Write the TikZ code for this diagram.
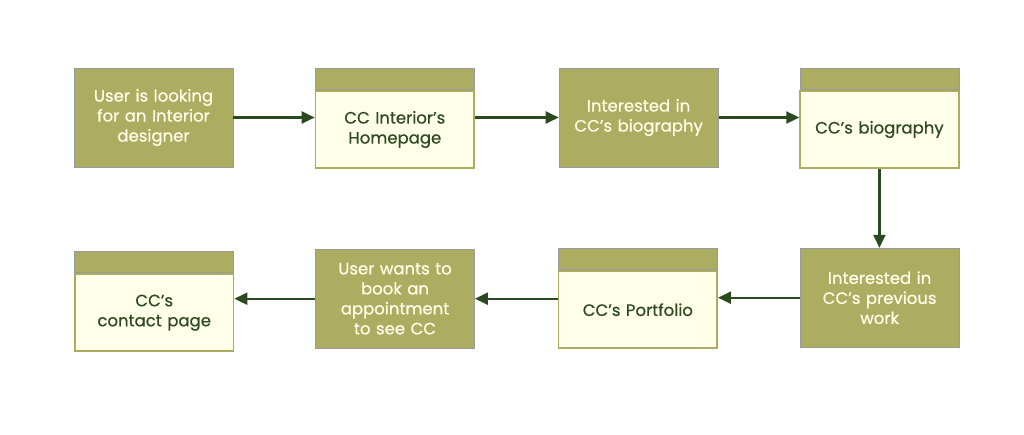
\documentclass[tikz,border=0pt]{standalone}
\usepackage{fontspec}
\setmainfont{Poppins}[FakeBold=0.6]
\usetikzlibrary{arrows.meta, positioning}
\definecolor{olive}{HTML}{ADAD62}
\definecolor{ivory}{HTML}{FFFFEA}
\definecolor{leaf}{HTML}{2C4A1F}
\definecolor{rim}{HTML}{9A9A9A}

\begin{document}
\begin{tikzpicture}[
    x=1pt, y=-1pt,
    box/.style={rectangle, minimum width=159pt, minimum height=99pt, text width=152pt, align=center, font=\fontsize{16.5}{20}\selectfont, fill=olive, draw=rim, line width=0.8pt, text=ivory},
    hdr/.style={rectangle, minimum width=159pt, minimum height=21pt, inner sep=0pt, fill=olive, draw=rim, line width=0.8pt},
    pagebody/.style={rectangle, minimum width=157pt, minimum height=77pt, text width=152pt, align=center, font=\fontsize{16.5}{20}\selectfont, fill=ivory, draw=olive, line width=1.6pt, text=leaf},
    arrow/.style={-{Triangle[length=13pt, width=12pt]}, line width=2.2pt, leaf}
]
\useasboundingbox (0,0) rectangle (1024,434);

% Nodes, top row
\node[box] (look) at (153.5,117.5) {User is looking\\for an Interior\\designer};
\node[hdr, right=81.5pt of look.north east, anchor=north west] (homeh) {};
\node[pagebody, below=0.8pt of homeh] (home) {CC Interior's\\Homepage};
\node[box, right=84pt of homeh.north east, anchor=north west] (wantbio) {Interested in\\CC's biography};
\node[hdr, right=81pt of wantbio.north east, anchor=north west] (bioh) {};
\node[pagebody, below=0.8pt of bioh] (bio) {CC's biography};

% Nodes, bottom row
\node[box, below=79pt of bio.south east, anchor=north east] (wantwork) {Interested in\\CC's previous\\work};
\node[hdr, left=82pt of wantwork.north west, anchor=north east] (folioh) {};
\node[pagebody, below=0.8pt of folioh] (folio) {CC's Portfolio};
\node[box, left=83pt of folioh.north west, anchor=north east, yshift=-1pt] (book) {User wants to\\book an\\appointment\\to see CC};
\node[hdr, left=81pt of book.north west, anchor=north east, yshift=-2pt] (contacth) {};
\node[pagebody, below=0.8pt of contacth] (contact) {CC's\\contact page};

% Arrows
\draw[arrow] (look) -- (look -| home.west);
\draw[arrow] (home.east |- look) -- (wantbio);
\draw[arrow] (wantbio) -- (wantbio -| bio.west);
\draw[arrow] (bio) -- (bio |- wantwork.north);
\draw[arrow] (wantwork) -- (wantwork -| folio.east);
\draw[arrow] (folio.west |- book) -- (book);
\draw[arrow] (book) -- (book -| contact.east);
\end{tikzpicture}
\end{document}
